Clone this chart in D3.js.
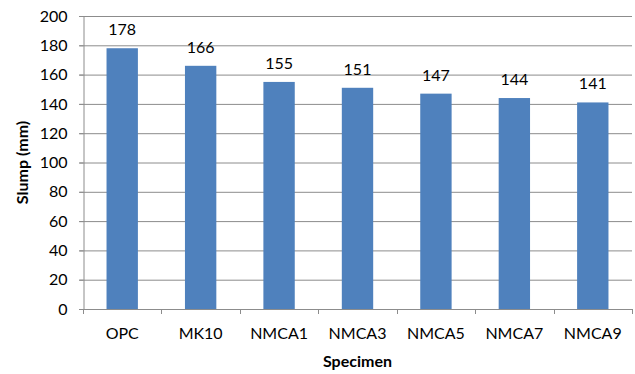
<!DOCTYPE html>
<html>
<head>
<meta charset="utf-8">
<script src="https://cdn.jsdelivr.net/npm/d3@7"></script>
<style>
  body { margin: 0; background: #fff; }
  svg { display: block; font-family: Lato, "Open Sans", sans-serif; }
</style>
</head>
<body>
<svg id="chart" width="635" height="374"></svg>
<script>
// Slump per specimen
const categories = ["OPC", "MK10", "NMCA1", "NMCA3", "NMCA5", "NMCA7", "NMCA9"];
const slump = [178, 166, 155, 151, 147, 144, 141];
const yTicks = [0, 20, 40, 60, 80, 100, 120, 140, 160, 180, 200];

const svg = d3.select("#chart");
const margin = { left: 83, right: 3, top: 16, bottom: 65 };
const W = 635, H = 374;

const x = d3.scaleBand()
  .domain(categories)
  .range([margin.left, W - margin.right])
  .paddingInner(0.6)
  .paddingOuter(0.3);

const y = d3.scaleLinear()
  .domain([0, 200])
  .range([H - margin.bottom, margin.top]);

// gridlines
svg.append("g")
  .selectAll("line")
  .data(yTicks)
  .join("line")
  .attr("x1", margin.left - 4)
  .attr("x2", W - margin.right)
  .attr("y1", d => y(d) + 0.5)
  .attr("y2", d => y(d) + 0.5)
  .attr("stroke", "#8c8c8c")
  .attr("stroke-width", 1);

// bars
svg.append("g")
  .selectAll("rect")
  .data(slump)
  .join("rect")
  .attr("x", (d, i) => x(categories[i]))
  .attr("width", x.bandwidth())
  .attr("y", d => y(d))
  .attr("height", d => y(0) - y(d))
  .attr("fill", "#4f81bd");

// value labels
svg.append("g")
  .selectAll("text")
  .data(slump)
  .join("text")
  .attr("x", (d, i) => x(categories[i]) + x.bandwidth() / 2)
  .attr("y", d => y(d) - 13)
  .attr("text-anchor", "middle")
  .attr("font-size", 16)
  .attr("fill", "#000")
  .text(d => d);

// y axis
const yAxis = svg.append("g")
  .attr("transform", `translate(${margin.left + 0.5},0)`)
  .call(d3.axisLeft(y).tickValues(yTicks).tickSize(4).tickPadding(12));
yAxis.selectAll("path, line").attr("stroke", "#8c8c8c");
yAxis.selectAll("text").attr("font-size", 16).attr("fill", "#000").attr("font-family", "Lato, sans-serif");

// x axis with boundary ticks
const bounds = d3.range(categories.length + 1).map(i => margin.left + i * (W - margin.right - margin.left) / categories.length);
const xg = svg.append("g");
xg.append("line")
  .attr("x1", margin.left).attr("x2", W - margin.right)
  .attr("y1", y(0) + 0.5).attr("y2", y(0) + 0.5)
  .attr("stroke", "#8c8c8c");
xg.selectAll("line.tk")
  .data(bounds)
  .join("line")
  .attr("class", "tk")
  .attr("x1", d => Math.round(d) + 0.5).attr("x2", d => Math.round(d) + 0.5)
  .attr("y1", y(0)).attr("y2", y(0) + 5)
  .attr("stroke", "#8c8c8c");
xg.selectAll("text")
  .data(categories)
  .join("text")
  .attr("x", d => x(d) + x.bandwidth() / 2)
  .attr("y", y(0) + 30)
  .attr("text-anchor", "middle")
  .attr("font-size", 16)
  .attr("fill", "#000")
  .text(d => d);

// axis titles
svg.append("text")
  .attr("x", (margin.left + W - margin.right) / 2)
  .attr("y", 367)
  .attr("text-anchor", "middle")
  .attr("font-size", 16)
  .attr("font-weight", "bold")
  .text("Specimen");

svg.append("text")
  .attr("transform", `translate(28,${(y(0) + y(200)) / 2}) rotate(-90)`)
  .attr("text-anchor", "middle")
  .attr("font-size", 16)
  .attr("font-weight", "bold")
  .text("Slump (mm)");
</script>
</body>
</html>
